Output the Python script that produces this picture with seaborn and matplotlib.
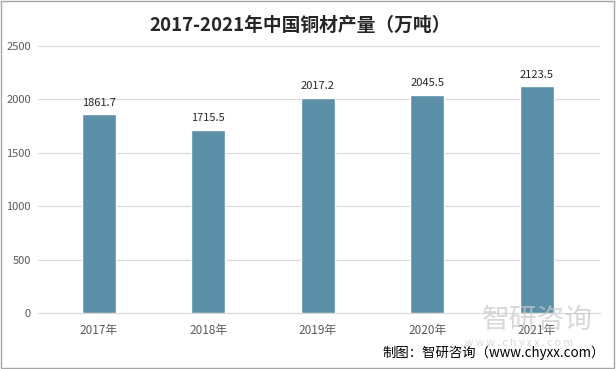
import matplotlib
matplotlib.use('Agg')
import matplotlib.pyplot as plt
import seaborn as sns
import pandas as pd

# 数据
years = ['2017年', '2018年', '2019年', '2020年', '2021年']
output = [1861.7, 1715.5, 2017.2, 2045.5, 2123.5]
yticks = [0, 500, 1000, 1500, 2000, 2500]

sns.set_style('white')
plt.rcParams['font.family'] = ['Noto Sans CJK SC', 'DejaVu Sans']

df = pd.DataFrame({'year': years, 'output': output})

fig = plt.figure(figsize=(6.16, 3.69), dpi=100)
ax = fig.add_axes([0.0617, 0.152, 0.912, 0.723])

sns.barplot(data=df, x='year', y='output', color='#5B8FA8', saturation=1,
            width=0.31, ax=ax, zorder=3)

ax.set_ylim(0, 2500)
ax.set_yticks(yticks)
ax.set_xlim(-0.557, 4.575)
ax.grid(axis='y', color='#D9D9D9', linewidth=0.8, zorder=0)
for s in ['top', 'right', 'left']:
    ax.spines[s].set_visible(False)
ax.spines['bottom'].set_color('#D9D9D9')
ax.set_xlabel('')
ax.set_ylabel('')
ax.tick_params(axis='both', length=0, labelsize=8, colors='#595959')
ax.tick_params(axis='x', pad=8, labelsize=8.5)
ax.tick_params(axis='y', pad=5)

for i, v in enumerate(output):
    ax.text(i, v + 60, f'{v:.1f}', ha='center', va='bottom', fontsize=8, color='#262626')

fig.text(0.487, 0.93, '2017-2021年中国铜材产量（万吨）', ha='center', va='center',
         fontsize=13.5, fontweight='bold', color='#262626')

# 水印
fig.text(0.873, 0.133, '智研咨询', ha='center', va='center', fontsize=20,
         color='#C8C8C8', alpha=0.7)
fig.text(0.842, 0.07, 'w w w . c h y x x . c o m', ha='center', va='center', fontsize=7.5,
         color='#C8C8C8', alpha=0.7)

fig.text(0.982, 0.043, '制图：智研咨询（www.chyxx.com）', ha='right', va='center',
         fontsize=9.6, color='#000000')

# 外框
fig.patches.append(plt.Rectangle((0.002, 0.003), 0.995, 0.994, transform=fig.transFigure,
                                 fill=False, edgecolor='#A6A6A6', linewidth=1))

fig.savefig('out.png', dpi=100)
